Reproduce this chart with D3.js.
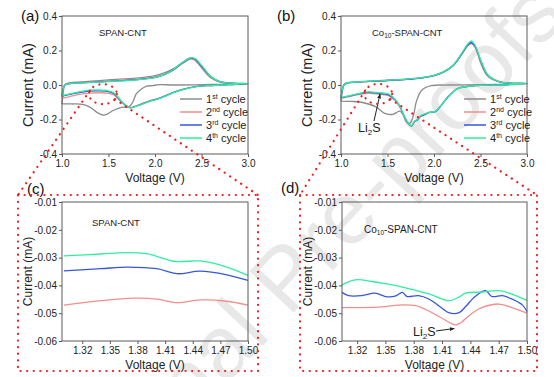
<!DOCTYPE html>
<html>
<head>
<meta charset="utf-8">
<script src="https://cdn.jsdelivr.net/npm/d3@7"></script>
<style>
  body { margin: 0; background: #fff; }
  text { font-family: "Liberation Sans", Arial, sans-serif; }
</style>
</head>
<body>
<script>
  // ---- data (voltage V, current mA) ----
  const cycleSup = [['1', 'st'], ['2', 'nd'], ['3', 'rd'], ['4', 'th']];
  const colors = ['#8c8c8c', '#f28e8e', '#3557dd', '#2eee9e'];

  const fullXTicks = [1.0, 1.5, 2.0, 2.5, 3.0];
  const fullYTicks = [-0.4, -0.2, 0.0, 0.2, 0.4];
  const zoomXTicks = [1.32, 1.35, 1.38, 1.41, 1.44, 1.47, 1.50];
  const zoomYTicks = [-0.06, -0.05, -0.04, -0.03, -0.02, -0.01];

  // SPAN-CNT full CV loops (anodic 1.0 -> 3.0, then cathodic 3.0 -> 1.0)
  const spanC1 = [[1.0,-0.11],[1.01,-0.06],[1.03,0.0],[1.06,0.01],[1.2,0.018],[1.5,0.03],[1.8,0.04],[2.0,0.055],[2.1,0.07],[2.2,0.095],[2.3,0.132],[2.37,0.155],[2.42,0.148],[2.5,0.1],[2.6,0.042],[2.7,0.017],[2.85,0.01],[3.0,0.008],
                  [2.6,0.003],[2.2,0.0],[2.05,0.002],[1.97,-0.004],[1.91,-0.006],[1.85,-0.025],[1.8,-0.05],[1.76,-0.1],[1.72,-0.126],[1.64,-0.13],[1.55,-0.148],[1.48,-0.17],[1.44,-0.174],[1.38,-0.16],[1.3,-0.128],[1.22,-0.112],[1.1,-0.11],[1.0,-0.11]];
  const spanC2 = [[1.0,-0.078],[1.01,-0.04],[1.03,0.0],[1.08,0.008],[1.2,0.012],[1.5,0.022],[1.8,0.032],[2.0,0.045],[2.1,0.06],[2.2,0.088],[2.3,0.126],[2.38,0.15],[2.42,0.147],[2.5,0.105],[2.6,0.045],[2.7,0.018],[2.85,0.01],[3.0,0.007],
                  [2.8,0.002],[2.6,-0.003],[2.45,-0.008],[2.3,-0.025],[2.2,-0.042],[2.1,-0.065],[2.02,-0.08],[1.95,-0.09],[1.85,-0.11],[1.78,-0.124],[1.73,-0.13],[1.68,-0.118],[1.62,-0.09],[1.56,-0.058],[1.5,-0.048],[1.4,-0.045],[1.3,-0.047],[1.2,-0.053],[1.1,-0.065],[1.0,-0.078]];
  const spanC3 = [[1.0,-0.065],[1.01,-0.03],[1.03,0.0],[1.08,0.008],[1.2,0.012],[1.5,0.021],[1.8,0.031],[2.0,0.044],[2.1,0.06],[2.2,0.089],[2.3,0.13],[2.38,0.155],[2.43,0.15],[2.5,0.11],[2.6,0.048],[2.7,0.02],[2.85,0.01],[3.0,0.007],
                  [2.8,0.002],[2.6,-0.003],[2.45,-0.008],[2.3,-0.026],[2.2,-0.043],[2.1,-0.066],[2.02,-0.082],[1.95,-0.092],[1.85,-0.112],[1.78,-0.126],[1.73,-0.131],[1.68,-0.116],[1.62,-0.085],[1.56,-0.05],[1.5,-0.038],[1.4,-0.034],[1.3,-0.035],[1.2,-0.042],[1.1,-0.053],[1.0,-0.065]];
  const spanC4 = [[1.0,-0.062],[1.01,-0.03],[1.03,0.0],[1.08,0.008],[1.2,0.012],[1.5,0.02],[1.8,0.03],[2.0,0.043],[2.1,0.06],[2.2,0.09],[2.3,0.133],[2.39,0.158],[2.44,0.15],[2.5,0.115],[2.6,0.05],[2.7,0.02],[2.85,0.01],[3.0,0.008],
                  [2.8,0.002],[2.6,-0.003],[2.45,-0.009],[2.3,-0.027],[2.2,-0.044],[2.1,-0.067],[2.02,-0.083],[1.95,-0.093],[1.85,-0.113],[1.78,-0.127],[1.73,-0.132],[1.68,-0.115],[1.62,-0.082],[1.56,-0.046],[1.5,-0.034],[1.4,-0.029],[1.3,-0.03],[1.2,-0.038],[1.1,-0.05],[1.0,-0.062]];

  // Co10-SPAN-CNT full CV loops
  const coC1 = [[1.0,-0.093],[1.01,-0.05],[1.03,0.0],[1.06,0.012],[1.2,0.018],[1.5,0.028],[1.8,0.038],[2.0,0.055],[2.1,0.075],[2.2,0.11],[2.3,0.18],[2.37,0.235],[2.4,0.245],[2.45,0.215],[2.5,0.13],[2.58,0.05],[2.7,0.018],[2.85,0.01],[3.0,0.008],
                [2.5,0.002],[2.15,0.0],[1.97,-0.004],[1.87,-0.029],[1.81,-0.097],[1.78,-0.174],[1.74,-0.222],[1.7,-0.213],[1.67,-0.174],[1.63,-0.152],[1.56,-0.17],[1.47,-0.164],[1.37,-0.125],[1.22,-0.1],[1.1,-0.095],[1.0,-0.093]];
  const coC2 = [[1.0,-0.078],[1.01,-0.04],[1.03,0.0],[1.06,0.01],[1.2,0.018],[1.5,0.026],[1.8,0.037],[2.0,0.055],[2.1,0.075],[2.2,0.11],[2.3,0.18],[2.36,0.225],[2.4,0.24],[2.44,0.22],[2.5,0.14],[2.58,0.055],[2.7,0.02],[2.85,0.01],[3.0,0.008],
                [2.72,0.0],[2.44,-0.004],[2.26,-0.019],[2.15,-0.068],[2.08,-0.116],[2.01,-0.155],[1.95,-0.16],[1.9,-0.17],[1.85,-0.185],[1.82,-0.2],[1.79,-0.215],[1.76,-0.236],[1.73,-0.228],[1.69,-0.195],[1.63,-0.125],[1.58,-0.088],[1.51,-0.062],[1.42,-0.054],[1.3,-0.048],[1.2,-0.054],[1.1,-0.066],[1.0,-0.078]];
  const coC3 = [[1.0,-0.074],[1.01,-0.04],[1.03,0.0],[1.06,0.01],[1.2,0.018],[1.5,0.026],[1.8,0.037],[2.0,0.055],[2.1,0.075],[2.2,0.11],[2.3,0.182],[2.36,0.23],[2.4,0.245],[2.44,0.225],[2.5,0.145],[2.58,0.056],[2.7,0.02],[2.85,0.01],[3.0,0.008],
                [2.72,0.0],[2.44,-0.004],[2.26,-0.02],[2.15,-0.07],[2.08,-0.117],[2.01,-0.156],[1.95,-0.158],[1.9,-0.172],[1.85,-0.183],[1.82,-0.205],[1.79,-0.212],[1.76,-0.238],[1.73,-0.228],[1.69,-0.193],[1.63,-0.122],[1.58,-0.085],[1.51,-0.057],[1.42,-0.05],[1.3,-0.043],[1.2,-0.05],[1.1,-0.063],[1.0,-0.074]];
  const coC4 = [[1.0,-0.072],[1.01,-0.04],[1.03,0.0],[1.06,0.011],[1.2,0.019],[1.5,0.027],[1.8,0.038],[2.0,0.056],[2.1,0.076],[2.2,0.112],[2.3,0.186],[2.36,0.236],[2.4,0.255],[2.44,0.232],[2.5,0.148],[2.58,0.058],[2.7,0.02],[2.85,0.01],[3.0,0.009],
                [2.72,0.0],[2.44,-0.004],[2.26,-0.02],[2.15,-0.069],[2.08,-0.116],[2.01,-0.154],[1.95,-0.158],[1.9,-0.168],[1.85,-0.18],[1.82,-0.202],[1.79,-0.21],[1.76,-0.236],[1.73,-0.226],[1.69,-0.19],[1.63,-0.12],[1.58,-0.082],[1.51,-0.052],[1.42,-0.045],[1.3,-0.04],[1.2,-0.048],[1.1,-0.061],[1.0,-0.072]];

  // zoomed cathodic branch 1.30-1.50 V
  const spanZ2 = [[1.30,-0.0471],[1.34,-0.0455],[1.376,-0.0446],[1.401,-0.0449],[1.423,-0.0462],[1.448,-0.0452],[1.477,-0.0457],[1.50,-0.0471]];
  const spanZ3 = [[1.30,-0.0348],[1.34,-0.0340],[1.369,-0.0334],[1.401,-0.0340],[1.423,-0.0358],[1.448,-0.0349],[1.477,-0.0362],[1.50,-0.0382]];
  const spanZ4 = [[1.30,-0.0294],[1.34,-0.0287],[1.369,-0.0282],[1.39,-0.0286],[1.421,-0.0314],[1.448,-0.0312],[1.477,-0.0334],[1.50,-0.0364]];

  const coZ2 = [[1.304,-0.0480],[1.325,-0.0480],[1.35,-0.0476],[1.368,-0.0470],[1.382,-0.0473],[1.396,-0.0492],[1.41,-0.0518],[1.424,-0.0542],[1.429,-0.0536],[1.442,-0.0500],[1.452,-0.0480],[1.47,-0.0467],[1.481,-0.0476],[1.50,-0.0500]];
  const coZ3 = [[1.304,-0.0425],[1.311,-0.0437],[1.325,-0.0437],[1.339,-0.0428],[1.35,-0.0440],[1.36,-0.0439],[1.368,-0.0425],[1.373,-0.0440],[1.385,-0.0437],[1.396,-0.0449],[1.41,-0.0482],[1.417,-0.0498],[1.428,-0.0498],[1.435,-0.0476],[1.445,-0.0440],[1.456,-0.0419],[1.463,-0.0440],[1.474,-0.0437],[1.484,-0.0449],[1.495,-0.0470],[1.50,-0.0494]];
  const coZ4 = [[1.304,-0.0398],[1.318,-0.0380],[1.336,-0.0386],[1.35,-0.0394],[1.368,-0.0406],[1.382,-0.0418],[1.399,-0.0434],[1.417,-0.0455],[1.428,-0.0442],[1.435,-0.0428],[1.452,-0.0424],[1.47,-0.0419],[1.484,-0.0431],[1.50,-0.0454]];

  const width = 554;
  const height = 377;

  const svg = d3.select('body')
          .append('svg')
          .attr('width', width)
          .attr('height', height);

  // watermark of the source page
  svg.append('text')
          .attr('transform', 'translate(322,282) rotate(-47)')
          .attr('text-anchor', 'middle')
          .attr('font-size', '88px')
          .attr('fill', '#e8e8e8')
          .text('Journal Pre-proofs');

  const panels = [
    { label: '(a)', lx: 21, ly: 21, left: 62, right: 248, top: 16, bottom: 154,
      xDomain: [1, 3], yDomain: [-0.4, 0.4], xTicks: fullXTicks, yTicks: fullYTicks, digits: 1,
      series: [spanC1, spanC2, spanC3, spanC4], colorIdx: [0, 1, 2, 3], name: 'SPAN-CNT', nx: 99, ny: 36,
      nameSize: 9.5, yTitleSize: 14.5, legend: 180 },
    { label: '(b)', lx: 277, ly: 21, left: 341, right: 527, top: 16, bottom: 154,
      xDomain: [1, 3], yDomain: [-0.4, 0.4], xTicks: fullXTicks, yTicks: fullYTicks, digits: 1,
      series: [coC1, coC2, coC3, coC4], colorIdx: [0, 1, 2, 3], name: 'Co', nx: 372, ny: 36,
      nameSize: 9.5, yTitleSize: 14.5, legend: 464 },
    { label: '(c)', lx: 27, ly: 194, left: 62, right: 248, top: 202, bottom: 341,
      xDomain: [1.298, 1.5], yDomain: [-0.06, -0.01], xTicks: zoomXTicks, yTicks: zoomYTicks, digits: 2,
      series: [spanZ2, spanZ3, spanZ4], colorIdx: [1, 2, 3], name: 'SPAN-CNT', nx: 92, ny: 226,
      nameSize: 9.5, yTitleSize: 12 },
    { label: '(d)', lx: 281, ly: 193, left: 342, right: 527, top: 202, bottom: 341,
      xDomain: [1.304, 1.5], yDomain: [-0.06, -0.01], xTicks: zoomXTicks, yTicks: zoomYTicks, digits: 2,
      series: [coZ2, coZ3, coZ4], colorIdx: [1, 2, 3], name: 'Co', nx: 364, ny: 233,
      nameSize: 10, yTitleSize: 12 }
  ];

  const scales = [];

  panels.forEach(p => {
    const x = d3.scaleLinear().domain(p.xDomain).range([p.left, p.right]);
    const y = d3.scaleLinear().domain(p.yDomain).range([p.bottom, p.top]);
    scales.push({ x, y });

    const g = svg.append('g');

    const line = d3.line()
            .x(d => x(d[0]))
            .y(d => y(d[1]))
            .curve(d3.curveCatmullRom.alpha(0.5));

    g.selectAll('path.cv')
            .data(p.series)
            .enter()
            .append('path')
            .attr('class', 'cv')
            .attr('d', line)
            .attr('fill', 'none')
            .attr('stroke', (d, i) => colors[p.colorIdx[i]])
            .attr('stroke-width', 1.3);

    // frame
    g.append('rect')
            .attr('x', p.left).attr('y', p.top)
            .attr('width', p.right - p.left).attr('height', p.bottom - p.top)
            .attr('fill', 'none').attr('stroke', '#5a5a5a').attr('stroke-width', 1);

    const xAxis = g.append('g')
            .attr('transform', `translate(0,${p.bottom})`)
            .call(d3.axisBottom(x).tickValues(p.xTicks).tickSize(3).tickPadding(3)
                    .tickFormat(d => d.toFixed(p.digits)));
    const yAxis = g.append('g')
            .attr('transform', `translate(${p.left},0)`)
            .call(d3.axisLeft(y).tickValues(p.yTicks).tickSize(3).tickPadding(2)
                    .tickFormat(d => d.toFixed(p.digits)));
    [xAxis, yAxis].forEach(a => {
      a.select('.domain').remove();
      a.selectAll('line').attr('stroke', '#5a5a5a');
      a.selectAll('text').attr('font-size', '10px').attr('fill', '#222')
              .attr('font-family', '"Liberation Sans", Arial, sans-serif');
    });

    g.append('text')
            .attr('x', (p.left + p.right) / 2)
            .attr('y', p.bottom + 28)
            .attr('text-anchor', 'middle')
            .attr('font-size', '12px')
            .attr('fill', '#222')
            .text('Voltage (V)');

    g.append('text')
            .attr('transform', `translate(${p.left - 34},${(p.top + p.bottom) / 2}) rotate(-90)`)
            .attr('text-anchor', 'middle')
            .attr('dy', '0.35em')
            .attr('font-size', p.yTitleSize + 'px')
            .attr('fill', '#222')
            .text('Current (mA)');

    g.append('text')
            .attr('x', p.lx).attr('y', p.ly)
            .attr('font-size', '15px')
            .attr('fill', '#111')
            .text(p.label);

    const nameText = g.append('text')
            .attr('x', p.nx).attr('y', p.ny)
            .attr('font-size', p.nameSize + 'px')
            .attr('fill', '#222');
    if (p.name === 'Co') {
      nameText.append('tspan').text('Co');
      nameText.append('tspan').attr('font-size', '6.5px').attr('dy', 2).text('10');
      nameText.append('tspan').attr('dy', -2).text('-SPAN-CNT');
    } else {
      nameText.text(p.name);
    }

    if (p.legend) {
      const rows = [99, 112, 125, 138];
      cycleSup.forEach((c, i) => {
        g.append('line')
                .attr('x1', p.legend).attr('x2', p.legend + 22)
                .attr('y1', rows[i]).attr('y2', rows[i])
                .attr('stroke', colors[i]).attr('stroke-width', 1.5);
        const t = g.append('text')
                .attr('x', p.legend + 26).attr('y', rows[i] + 4)
                .attr('font-size', '11px').attr('fill', '#222');
        t.append('tspan').text(c[0]);
        t.append('tspan').attr('font-size', '7px').attr('dy', -4).text(c[1]);
        t.append('tspan').attr('dy', 4).text(' cycle');
      });
    }
  });

  // arrow marker
  svg.append('defs').append('marker')
          .attr('id', 'arr')
          .attr('viewBox', '0 0 10 10')
          .attr('refX', 9).attr('refY', 5)
          .attr('markerWidth', 5).attr('markerHeight', 5)
          .attr('orient', 'auto')
          .append('path')
          .attr('d', 'M0,1 L10,5 L0,9 Z')
          .attr('fill', '#222');

  function li2s(x, y) {
    const t = svg.append('text')
            .attr('x', x).attr('y', y)
            .attr('font-size', '12.5px').attr('fill', '#222');
    t.append('tspan').text('Li');
    t.append('tspan').attr('font-size', '8px').attr('dy', 3).text('2');
    t.append('tspan').attr('dy', -3).text('S');
  }

  // Li2S annotation, panel (b)
  li2s(358, 132);
  svg.append('line')
          .attr('x1', 374).attr('y1', 121)
          .attr('x2', scales[1].x(1.42)).attr('y2', scales[1].y(-0.052))
          .attr('stroke', '#222').attr('stroke-width', 1)
          .attr('marker-end', 'url(#arr)');

  // Li2S annotation, panel (d)
  li2s(413, 336);
  svg.append('line')
          .attr('x1', 436).attr('y1', 331)
          .attr('x2', scales[3].x(1.423)).attr('y2', scales[3].y(-0.0555))
          .attr('stroke', '#222').attr('stroke-width', 1)
          .attr('marker-end', 'url(#arr)');

  // red dotted zoom guides
  const dotStyle = sel => sel
          .attr('fill', 'none')
          .attr('stroke', '#ee1c1c')
          .attr('stroke-width', 2.2)
          .attr('stroke-linecap', 'round')
          .attr('stroke-dasharray', '0.1 6.5');

  const zooms = [
    { s: scales[0], cv: 1.44, ci: -0.053, rv: 0.15, ri: 0.058, box: [18, 195, 258, 371] },
    { s: scales[1], cv: 1.40, ci: -0.052, rv: 0.15, ri: 0.058, box: [300, 195, 537, 371] }
  ];

  zooms.forEach(z => {
    const cx = z.s.x(z.cv), cy = z.s.y(z.ci);
    const rx = z.s.x(z.cv + z.rv) - cx, ry = z.s.y(z.ci - z.ri) - cy;
    svg.append('ellipse')
            .attr('cx', cx).attr('cy', cy).attr('rx', rx).attr('ry', ry)
            .call(dotStyle);
    const a1 = 200 * Math.PI / 180, a2 = 30 * Math.PI / 180;
    svg.append('line')
            .attr('x1', cx + rx * Math.cos(a1)).attr('y1', cy + ry * Math.sin(a1))
            .attr('x2', z.box[0]).attr('y2', z.box[1])
            .call(dotStyle);
    svg.append('line')
            .attr('x1', cx + rx * Math.cos(a2)).attr('y1', cy + ry * Math.sin(a2))
            .attr('x2', z.box[2]).attr('y2', z.box[1])
            .call(dotStyle);
    svg.append('rect')
            .attr('x', z.box[0]).attr('y', z.box[1])
            .attr('width', z.box[2] - z.box[0]).attr('height', z.box[3] - z.box[1])
            .call(dotStyle);
  });
</script>
</body>
</html>
